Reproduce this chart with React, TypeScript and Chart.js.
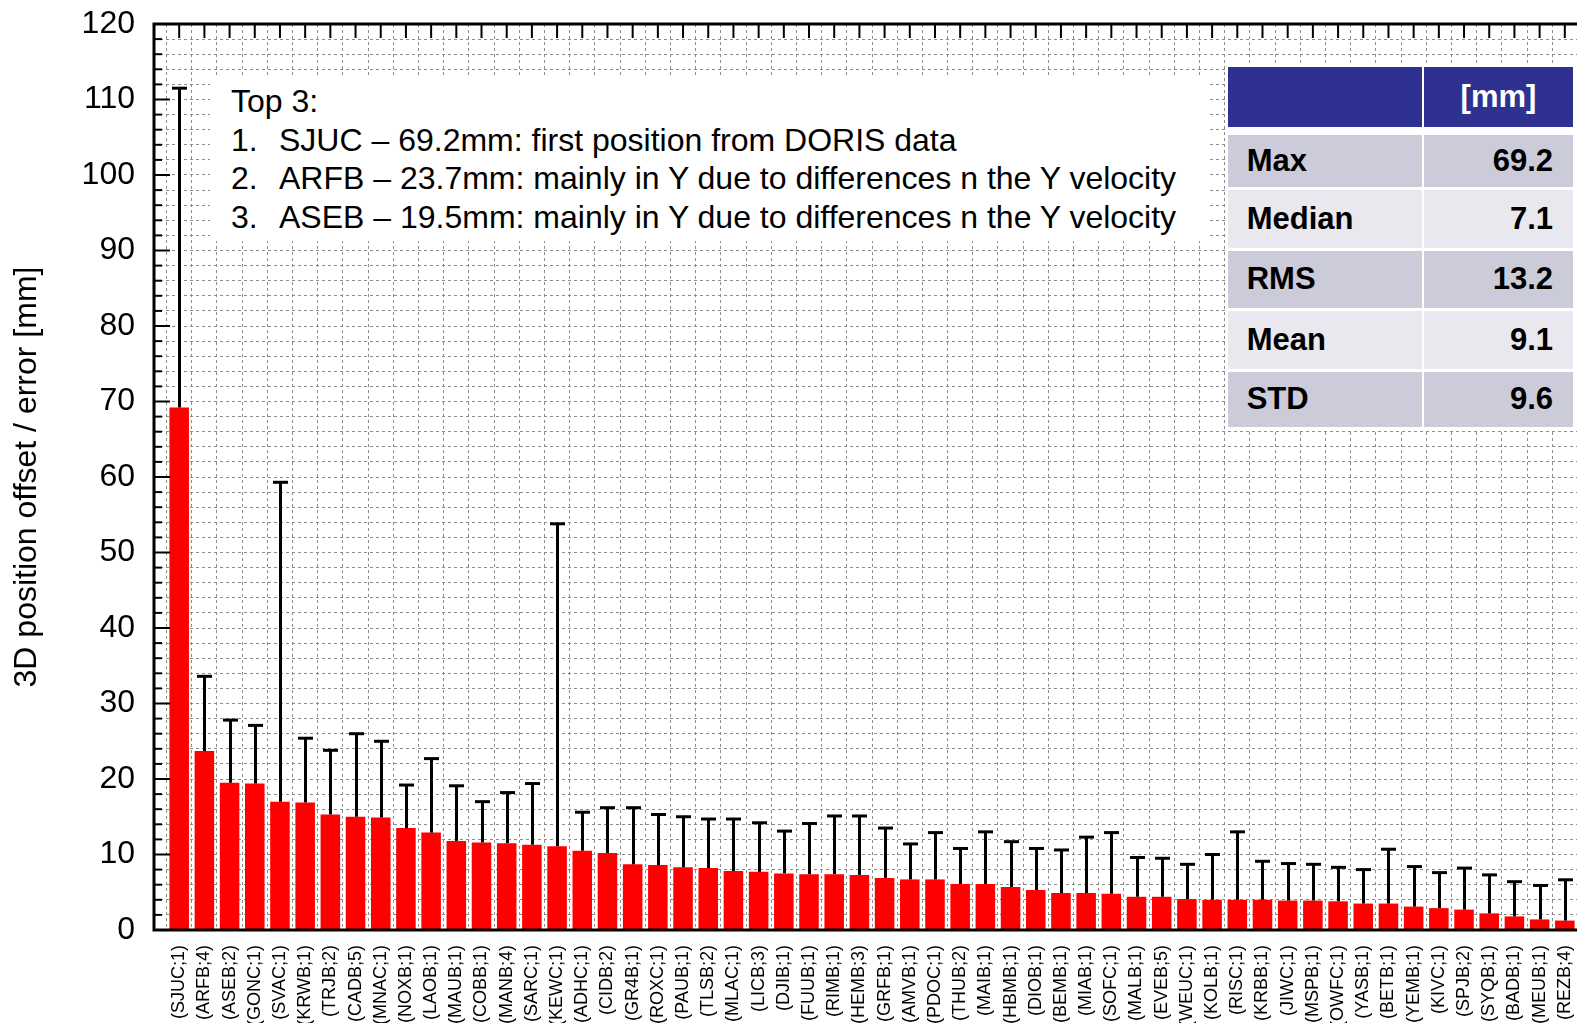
import React, { useEffect, useRef } from 'react';
import { Chart, registerables } from 'chart.js';

Chart.register(...registerables);

const stations = [
  '(SJUC;1)', '(ARFB;4)', '(ASEB;2)', '(GONC;1)', '(SVAC;1)', '(KRWB;1)', '(TRJB;2)', '(CADB;5)',
  '(MNAC;1)', '(NOXB;1)', '(LAOB;1)', '(MAUB;1)', '(COBB;1)', '(MANB;4)', '(SARC;1)', '(KEWC;1)',
  '(ADHC;1)', '(CIDB;2)', '(GR4B;1)', '(ROXC;1)', '(PAUB;1)', '(TLSB;2)', '(MLAC;1)', '(LICB;3)',
  '(DJIB;1)', '(FUUB;1)', '(RIMB;1)', '(HEMB;3)', '(GRFB;1)', '(AMVB;1)', '(PDOC;1)', '(THUB;2)',
  '(MAIB;1)', '(HBMB;1)', '(DIOB;1)', '(BEMB;1)', '(MIAB;1)', '(SOFC;1)', '(MALB;1)', '(EVEB;5)',
  '(WEUC;1)', '(KOLB;1)', '(RISC;1)', '(KRBB;1)', '(JIWC;1)', '(MSPB;1)', '(OWFC;1)', '(YASB;1)',
  '(BETB;1)', '(YEMB;1)', '(KIVC;1)', '(SPJB;2)', '(SYQB;1)', '(BADB;1)', '(MEUB;1)', '(REZB;4)',
];

const offsets = [
  69.2, 23.7, 19.5, 19.4, 17.0, 16.9, 15.3, 15.0,
  14.9, 13.5, 12.9, 11.8, 11.6, 11.5, 11.3, 11.1,
  10.5, 10.2, 8.7, 8.6, 8.3, 8.2, 7.8, 7.7,
  7.5, 7.4, 7.4, 7.3, 6.9, 6.7, 6.7, 6.1,
  6.1, 5.7, 5.3, 4.9, 4.9, 4.8, 4.4, 4.4,
  4.1, 4.0, 4.0, 4.0, 3.9, 3.9, 3.8, 3.5,
  3.5, 3.1, 2.9, 2.7, 2.2, 1.8, 1.4, 1.25,
];

const errors = [
  42.3, 9.9, 8.3, 7.7, 42.3, 8.5, 8.5, 11.0,
  10.1, 5.7, 9.8, 7.3, 5.4, 6.7, 8.1, 42.7,
  5.1, 6.0, 7.5, 6.7, 6.7, 6.5, 6.9, 6.5,
  5.6, 6.7, 7.7, 7.8, 6.6, 4.7, 6.2, 4.7,
  6.9, 6.0, 5.5, 5.7, 7.4, 8.1, 5.2, 5.1,
  4.6, 6.0, 9.0, 5.1, 4.9, 4.8, 4.5, 4.5,
  7.2, 5.3, 4.7, 5.5, 5.1, 4.6, 4.5, 5.4,
];

const yAxisTitle = '3D position offset / error [mm]';
const yMin = 0;
const yMax = 120;
const xMin = 0;
const xMax = 57;

const topTitle = 'Top 3:';
const topItems = [
  'SJUC – 69.2mm: first position from DORIS data',
  'ARFB – 23.7mm: mainly in Y due to differences n the Y velocity',
  'ASEB – 19.5mm: mainly in Y due to differences n the Y velocity',
];

const statHeader = '[mm]';
const statLabels = ['Max', 'Median', 'RMS', 'Mean', 'STD'];
const statValues = ['69.2', '7.1', '13.2', '9.1', '9.6'];

const FONT = "'Liberation Sans', Arial, Helvetica, sans-serif";

const errorBarPlugin = {
  id: 'errorBars',
  afterDatasetsDraw(chart: any) {
    const { ctx } = chart;
    const xs = chart.scales.x;
    const ys = chart.scales.y;
    ctx.save();
    ctx.strokeStyle = '#000';
    ctx.lineWidth = 3;
    offsets.forEach((v, i) => {
      const px = Math.round(xs.getPixelForValue(i + 1)) + 0.5;
      const y1 = ys.getPixelForValue(v);
      const y2 = ys.getPixelForValue(v + errors[i]);
      ctx.beginPath();
      ctx.moveTo(px, y1);
      ctx.lineTo(px, y2);
      ctx.stroke();
      ctx.beginPath();
      ctx.moveTo(px - 7.5, y2);
      ctx.lineTo(px + 7.5, y2);
      ctx.stroke();
    });
    ctx.restore();
  },
};

const framePlugin = {
  id: 'frame',
  afterDraw(chart: any) {
    const { ctx, chartArea } = chart;
    const { left, right, top, bottom } = chartArea;
    const xs = chart.scales.x;
    const ys = chart.scales.y;
    ctx.save();
    ctx.strokeStyle = '#000';
    ctx.lineWidth = 2;
    ys.ticks.forEach((t: any) => {
      const py = ys.getPixelForValue(t.value);
      const len = t.value % 10 === 0 ? 16 : 8;
      ctx.beginPath();
      ctx.moveTo(left, py);
      ctx.lineTo(left + len, py);
      ctx.stroke();
    });
    xs.ticks.forEach((t: any) => {
      const px = xs.getPixelForValue(t.value);
      ctx.beginPath();
      ctx.moveTo(px, top);
      ctx.lineTo(px, top + 14);
      ctx.stroke();
    });
    ctx.lineWidth = 3;
    ctx.beginPath();
    ctx.moveTo(left, bottom);
    ctx.lineTo(left, top);
    ctx.lineTo(right, top);
    ctx.lineTo(right, bottom);
    ctx.closePath();
    ctx.stroke();
    ctx.restore();
  },
};

export default function App() {
  const ref = useRef<HTMLCanvasElement | null>(null);

  useEffect(() => {
    if (!ref.current) return;
    Chart.defaults.font.family = FONT;
    const chart = new Chart(ref.current, {
      type: 'bar',
      data: {
        datasets: [
          {
            data: offsets.map((v, i) => ({ x: i + 1, y: v })),
            backgroundColor: '#ff0000',
            borderWidth: 0,
            categoryPercentage: 0.8,
            barPercentage: 0.97,
          },
        ],
      },
      options: {
        animation: false,
        responsive: true,
        maintainAspectRatio: false,
        layout: { padding: { left: 0, top: 24, right: 30, bottom: 0 } },
        plugins: {
          legend: { display: false },
          tooltip: { enabled: false },
        },
        scales: {
          x: {
            type: 'linear',
            min: xMin,
            max: xMax,
            offset: false,
            ticks: {
              stepSize: 1,
              autoSkip: false,
              minRotation: 90,
              maxRotation: 90,
              padding: 15,
              color: '#000',
              font: { size: 18 },
              callback: (value: any) => stations[Number(value) - 1] ?? '',
            },
            grid: {
              display: true,
              color: '#8c8c8c',
              lineWidth: 1,
              drawTicks: false,
            },
            border: { display: false, dash: [3, 3] },
            afterFit: (scale: any) => {
              scale.height = 150;
              scale.paddingLeft = 0;
              scale.paddingRight = 0;
              scale.paddingTop = 0;
              scale.paddingBottom = 0;
            },
          },
          y: {
            type: 'linear',
            min: yMin,
            max: yMax,
            ticks: {
              stepSize: 2,
              autoSkip: false,
              padding: 19,
              color: '#000',
              font: { size: 32 },
              callback: (value: any) => (Number(value) % 10 === 0 ? String(value) : ''),
            },
            grid: {
              display: true,
              color: '#8c8c8c',
              lineWidth: 1,
              drawTicks: false,
            },
            border: { display: false, dash: [3, 3] },
            title: {
              display: true,
              text: yAxisTitle,
              color: '#000',
              font: { size: 32 },
              padding: { top: 8, bottom: 0 },
            },
            afterFit: (scale: any) => {
              scale.width = 154;
              scale.paddingTop = 0;
              scale.paddingBottom = 0;
              scale.paddingLeft = 0;
              scale.paddingRight = 0;
            },
          },
        },
      },
      plugins: [errorBarPlugin, framePlugin],
    } as any);
    return () => chart.destroy();
  }, []);

  const rowTops = [66.7, 135, 190, 250.7, 311, 371.7];
  const rowHeights = [60, 52.3, 58.3, 57.6, 58, 55];
  const rowColors = ['#cbcbd9', '#e8e8ee', '#cbcbd9', '#e8e8ee', '#cbcbd9'];
  const col1 = { left: 1227.7, width: 194 };
  const col2 = { left: 1424, width: 149 };

  const cell = (left: number, top: number, width: number, height: number, bg: string): React.CSSProperties => ({
    position: 'absolute',
    left,
    top,
    width,
    height,
    background: bg,
    display: 'flex',
    alignItems: 'center',
    boxSizing: 'border-box',
    fontWeight: 'bold',
    fontSize: 31,
    whiteSpace: 'nowrap',
  });

  return (
    <div
      style={{
        position: 'fixed',
        left: 0,
        top: 0,
        width: '100vw',
        height: '100vh',
        overflow: 'hidden',
        background: '#fff',
        fontFamily: FONT,
        color: '#000',
      }}
    >
      <div style={{ position: 'absolute', left: 0, top: 0, width: 1620, height: 1080 }}>
        <canvas ref={ref} />
      </div>

      <div
        style={{
          position: 'absolute',
          left: 210,
          top: 75,
          width: 997,
          height: 166,
          background: '#fff',
          boxSizing: 'border-box',
          paddingTop: 7,
          paddingLeft: 21,
          fontSize: 32,
          lineHeight: '38.5px',
          whiteSpace: 'nowrap',
        }}
      >
        <div>{topTitle}</div>
        {topItems.map((t, i) => (
          <div key={i}>
            <span style={{ display: 'inline-block', width: 48 }}>{i + 1}.</span>
            {t}
          </div>
        ))}
      </div>

      <div style={{ position: 'absolute', left: 1225, top: 64, width: 352, height: 366, background: '#fff' }}>
        <div style={{ position: 'relative', left: -1225, top: -64 }}>
          <div style={cell(col1.left, rowTops[0], col1.width, rowHeights[0], '#2e3190')} />
          <div
            style={{
              ...cell(col2.left, rowTops[0], col2.width, rowHeights[0], '#2e3190'),
              justifyContent: 'center',
              color: '#fff',
            }}
          >
            {statHeader}
          </div>
          {statLabels.map((lab, i) => (
            <React.Fragment key={lab}>
              <div style={{ ...cell(col1.left, rowTops[i + 1], col1.width, rowHeights[i + 1], rowColors[i]), paddingLeft: 19 }}>
                {lab}
              </div>
              <div
                style={{
                  ...cell(col2.left, rowTops[i + 1], col2.width, rowHeights[i + 1], rowColors[i]),
                  justifyContent: 'flex-end',
                  paddingRight: 20,
                }}
              >
                {statValues[i]}
              </div>
            </React.Fragment>
          ))}
        </div>
      </div>
    </div>
  );
}
